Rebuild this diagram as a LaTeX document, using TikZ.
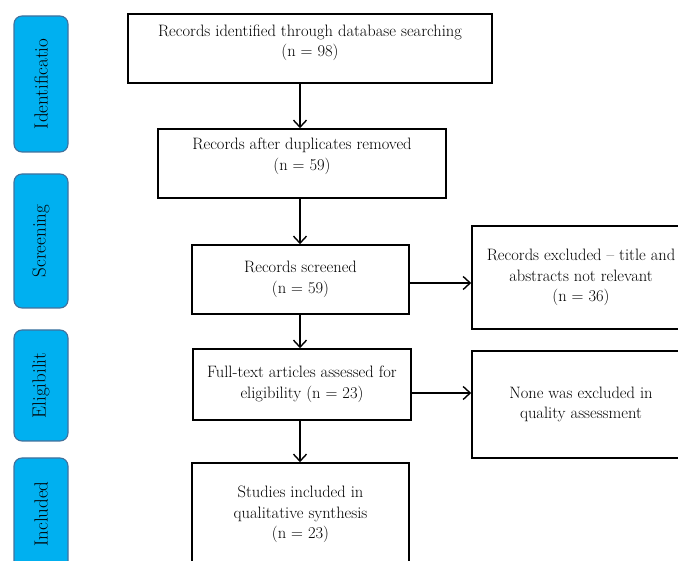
\documentclass[tikz,border=0pt]{standalone}
\usetikzlibrary{arrows.meta}
\definecolor{lblfill}{HTML}{00B0F0}
\definecolor{lblline}{HTML}{41719C}
\begin{document}
\begin{tikzpicture}[x=1pt,y=-1pt,
  boxfont/.style={font=\fontsize{16.5}{20.5}\selectfont},
  box/.style={draw=black, line width=1.6pt, align=center, inner sep=0pt, boxfont},
  lbl/.style={draw=lblline, fill=lblfill, line width=1.1pt, rounded corners=8pt,
     minimum height=54pt, inner sep=0pt, rotate=90, font=\fontsize{19}{22}\selectfont},
  arr/.style={line width=1.4pt, -{Straight Barb[length=7pt,width=13pt,line width=1.4pt]}}]
\useasboundingbox (0,0) rectangle (678,561);
\clip (0,0) rectangle (678,561);
% stage labels
\node[lbl, minimum width=136pt] (l1) at (41,84) {Identificatio};
\node[lbl, minimum width=134pt] (l2) at (41,241) {Screening};
\node[lbl, minimum width=111pt] (l3) at (41,385.5) {Eligibilit};
\node[lbl, minimum width=112pt] (l4) at (41,514) {Included};
% boxes
\node[box, minimum width=364pt, minimum height=69pt,
  label={[boxfont, align=center, yshift=5.5pt]center:{Records identified through database searching\\(n = 98)}}]
  (b1) at (310,48.5) {};
\node[box, minimum width=288pt, minimum height=69pt,
  label={[boxfont, align=center, yshift=7pt]center:{Records after duplicates removed\\(n = 59)}}]
  (b2) at (302,163.5) {};
\node[box, minimum width=217pt, minimum height=69pt] (b3) at (300.5,279.5)
  {Records screened\\(n = 59)};
\node[box, minimum width=218pt, minimum height=103pt] (b4) at (581,277.5)
  {Records excluded -- title and\\abstracts not relevant\\(n = 36)};
\node[box, minimum width=218pt, minimum height=71pt] (b5) at (302,384.5)
  {Full-text articles assessed for\\eligibility (n = 23)};
\node[box, minimum width=218pt, minimum height=107pt] (b6) at (581,404.5)
  {None was excluded in\\quality assessment};
\node[box, minimum width=217pt, minimum height=103pt] (b7) at (300.5,514.5)
  {Studies included in\\qualitative synthesis\\(n = 23)};
% connectors
\coordinate (ax) at (300,0);
\draw[arr] (b1.south -| ax) -- (b2.north -| ax);
\draw[arr] (b2.south -| ax) -- (b3.north -| ax);
\draw[arr] (b3.south -| ax) -- (b5.north -| ax);
\draw[arr] (b5.south -| ax) -- (b7.north -| ax);
\draw[arr] ([yshift=-3.5pt]b3.east) -- ([yshift=-3.5pt]b3.east -| b4.west);
\draw[arr] ([yshift=-8.5pt]b5.east) -- ([yshift=-8.5pt]b5.east -| b6.west);
\end{tikzpicture}
\end{document}
